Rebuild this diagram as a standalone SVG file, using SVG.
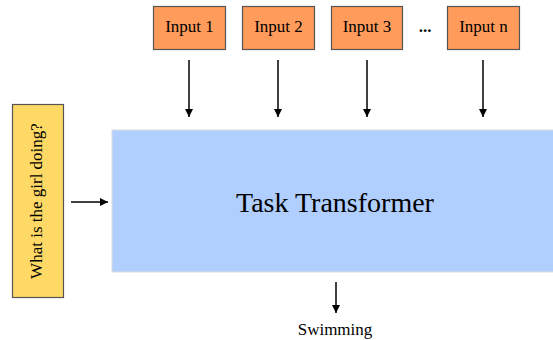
<svg xmlns="http://www.w3.org/2000/svg" width="553" height="340" viewBox="0 0 553 340">
<style>
.inp{fill:#ff9c5b;stroke:#555;stroke-width:1.2}
.t{font-family:"Liberation Serif",serif;fill:#000}
.c{stroke:#000;stroke-width:1.5;fill:none}
</style>
<defs>
<marker id="ah" viewBox="0 0 10 10" refX="10" refY="5" markerWidth="8" markerHeight="8" markerUnits="userSpaceOnUse" orient="auto">
<path d="M0,0 L10,5 L0,10 Z" fill="#000"/>
</marker>
</defs>
<rect width="553" height="340" fill="#fff"/>
<g id="transformer">
<rect x="112" y="130" width="442" height="142" fill="#b0cfff" stroke="#dcdcdc" stroke-width="1"/>
<text class="t" x="335" y="212" font-size="28" text-anchor="middle">Task Transformer</text>
</g>
<g id="input1">
<rect class="inp" x="153.5" y="6.5" width="72" height="43"/>
<text class="t" x="189.5" y="32" font-size="17" text-anchor="middle">Input 1</text>
</g>
<g id="input2">
<rect class="inp" x="242.5" y="6.5" width="72" height="43"/>
<text class="t" x="278.5" y="32" font-size="17" text-anchor="middle">Input 2</text>
</g>
<g id="input3">
<rect class="inp" x="331.5" y="6.5" width="71" height="43"/>
<text class="t" x="367" y="32" font-size="17" text-anchor="middle">Input 3</text>
</g>
<g id="dots">
<text class="t" x="425" y="32" font-size="17" font-weight="bold" text-anchor="middle">...</text>
</g>
<g id="inputn">
<rect class="inp" x="447.5" y="6.5" width="72" height="43"/>
<text class="t" x="483.5" y="32" font-size="17" text-anchor="middle">Input n</text>
</g>
<g id="question">
<rect x="12.5" y="104.5" width="51" height="193" fill="#ffd966" stroke="#555" stroke-width="1.2"/>
<text class="t" transform="translate(42,201) rotate(-90)" font-size="17" text-anchor="middle">What is the girl doing?</text>
</g>
<g id="output">
<text class="t" x="335" y="335" font-size="17" text-anchor="middle">Swimming</text>
</g>
<g id="connectors">
<line class="c" x1="189" y1="60" x2="189" y2="117" marker-end="url(#ah)"/>
<line class="c" x1="278" y1="60" x2="278" y2="117" marker-end="url(#ah)"/>
<line class="c" x1="367" y1="60" x2="367" y2="117" marker-end="url(#ah)"/>
<line class="c" x1="483" y1="60" x2="483" y2="117" marker-end="url(#ah)"/>
<line class="c" x1="71" y1="202" x2="108" y2="202" marker-end="url(#ah)"/>
<line class="c" x1="336" y1="282" x2="336" y2="313" marker-end="url(#ah)"/>
</g>
</svg>
